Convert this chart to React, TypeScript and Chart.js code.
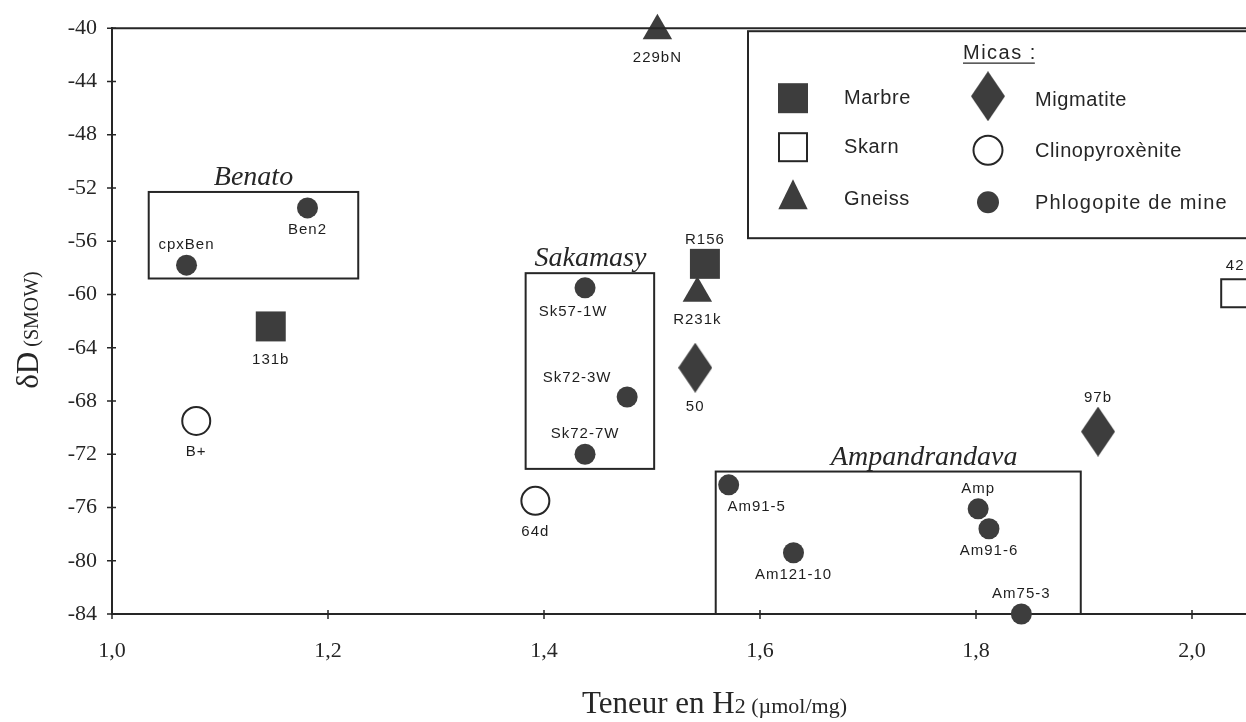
import React, { useEffect, useRef } from 'react';
import { Chart, registerables } from 'chart.js';

Chart.register(...registerables);

// ---------- data ----------
const xMin = 1.0;
const xMax = 2.15;
const yMin = -84;
const yMax = -40;
const xStep = 0.2;
const yStep = 4;

// Marbre (filled square)
const marbreX = [1.147, 1.549];
const marbreY = [-62.4, -57.7];
const marbreNames = ['131b', 'R156'];
const marbrePlace = ['b', 'a'];

// Skarn (open square)
const skarnX = [2.04];
const skarnY = [-59.9];
const skarnNames = ['42'];
const skarnPlace = ['a'];

// Gneiss (triangle)
const gneissX = [1.505, 1.542];
const gneissY = [-40.2, -59.9];
const gneissNames = ['229bN', 'R231k'];
const gneissPlace = ['b', 'b'];

// Migmatite (diamond)
const migX = [1.54, 1.913];
const migY = [-65.5, -70.3];
const migNames = ['50', '97b'];
const migPlace = ['b', 'a'];

// Clinopyroxènite (open circle)
const cpxX = [1.078, 1.392];
const cpxY = [-69.5, -75.5];
const cpxNames = ['B+', '64d'];
const cpxPlace = ['b', 'b'];

// Phlogopite de mine (filled circle)
const phloX = [1.069, 1.181, 1.438, 1.477, 1.438, 1.571, 1.631, 1.802, 1.812, 1.842];
const phloY = [-57.8, -53.5, -59.5, -67.7, -72.0, -74.3, -79.4, -76.1, -77.6, -84.0];
const phloNames = ['cpxBen', 'Ben2', 'Sk57-1W', 'Sk72-3W', 'Sk72-7W', 'Am91-5', 'Am121-10', 'Amp', 'Am91-6', 'Am75-3'];
const phloPlace = ['a', 'b', 'bl', 'al', 'a', 'br', 'b', 'a', 'b', 'a'];

// Regions (boxes)
const regionNames = ['Benato', 'Sakamasy', 'Ampandrandava'];
const regionXMin = [1.034, 1.383, 1.559];
const regionXMax = [1.228, 1.502, 1.897];
const regionYTop = [-52.3, -58.4, -73.3];
const regionYBottom = [-58.8, -73.1, -84];
const regionLabelX = [1.131, 1.443, 1.752];

const legendTitle = 'Micas :';
const legendLeftCol = ['Marbre', 'Skarn', 'Gneiss'];
const legendRightCol = ['Migmatite', 'Clinopyroxènite', 'Phlogopite de mine'];

// ---------- styling ----------
const INK = '#262626';
const FILL = '#3d3d3d';
const SERIF = '"Liberation Serif", "Times New Roman", serif';
const SANS = '"Liberation Sans", Arial, sans-serif';

function makeDiamond(w: number, h: number): HTMLCanvasElement {
  const c = document.createElement('canvas');
  c.width = w;
  c.height = h;
  const g = c.getContext('2d')!;
  g.fillStyle = FILL;
  g.beginPath();
  g.moveTo(w / 2, 0);
  g.lineTo(w, h / 2);
  g.lineTo(w / 2, h);
  g.lineTo(0, h / 2);
  g.closePath();
  g.fill();
  return c;
}

const pts = (xs: number[], ys: number[]) => xs.map((x, i) => ({ x, y: ys[i] }));

export default function App() {
  const ref = useRef<HTMLCanvasElement | null>(null);

  useEffect(() => {
    if (!ref.current) return;
    const diamond = makeDiamond(34, 50);

    const tickPlugin = {
      id: 'crossTicks',
      afterDraw(chart: any) {
        const { ctx, chartArea } = chart;
        const xs = chart.scales.x;
        const ys = chart.scales.y;
        ctx.save();
        ctx.strokeStyle = INK;
        ctx.lineWidth = 1.5;
        ctx.beginPath();
        xs.ticks.forEach((t: any) => {
          const px = xs.getPixelForValue(t.value);
          ctx.moveTo(px, chartArea.bottom - 4);
          ctx.lineTo(px, chartArea.bottom + 5);
        });
        ys.ticks.forEach((t: any) => {
          const py = ys.getPixelForValue(t.value);
          ctx.moveTo(chartArea.left - 5, py);
          ctx.lineTo(chartArea.left + 4, py);
        });
        ctx.stroke();
        ctx.lineWidth = 2;
        ctx.beginPath();
        ctx.moveTo(chartArea.left, chartArea.top);
        ctx.lineTo(chart.width, chartArea.top);
        ctx.stroke();
        ctx.restore();
      },
    };

    const regionPlugin = {
      id: 'regions',
      beforeDatasetsDraw(chart: any) {
        const { ctx } = chart;
        const xs = chart.scales.x;
        const ys = chart.scales.y;
        ctx.save();
        ctx.strokeStyle = INK;
        ctx.lineWidth = 2;
        regionNames.forEach((name, i) => {
          const x0 = xs.getPixelForValue(regionXMin[i]);
          const x1 = xs.getPixelForValue(regionXMax[i]);
          const y0 = ys.getPixelForValue(regionYTop[i]);
          const y1 = ys.getPixelForValue(regionYBottom[i]);
          ctx.strokeRect(x0, y0, x1 - x0, y1 - y0);
          ctx.font = `italic 28px ${SERIF}`;
          ctx.fillStyle = INK;
          ctx.textAlign = 'center';
          ctx.textBaseline = 'alphabetic';
          ctx.fillText(name, xs.getPixelForValue(regionLabelX[i]), y0 - 7);
        });
        ctx.restore();
      },
    };

    const labelPlugin = {
      id: 'pointLabels',
      afterDatasetsDraw(chart: any) {
        const { ctx } = chart;
        ctx.save();
        ctx.font = `15px ${SANS}`;
        (ctx as any).letterSpacing = '1px';
        ctx.fillStyle = '#1e1e1e';
        ctx.textAlign = 'center';
        ctx.textBaseline = 'middle';
        chart.data.datasets.forEach((ds: any, di: number) => {
          const meta = chart.getDatasetMeta(di);
          meta.data.forEach((el: any, i: number) => {
            const place = ds.places[i];
            let dx = 0;
            let dy = ds.gapBelow;
            if (place === 'a') dy = ds.gapAbove;
            if (place === 'al') { dy = ds.gapAbove + 1; dx = -50; }
            if (place === 'br') { dx = 28; }
            if (place === 'bl') { dx = -12; dy = ds.gapBelow + 2; }
            ctx.fillText(ds.names[i], el.x + dx, el.y + dy);
          });
        });
        ctx.restore();
      },
    };

    const titlePlugin = {
      id: 'axisTitles',
      afterDraw(chart: any) {
        const { ctx } = chart;
        ctx.save();
        ctx.fillStyle = INK;
        ctx.textBaseline = 'alphabetic';
        ctx.textAlign = 'left';
        const big = `31px ${SERIF}`;
        const small = `22px ${SERIF}`;
        const p1 = 'Teneur en H';
        const p2 = '2 (µmol/mg)';
        ctx.font = big;
        const w1 = ctx.measureText(p1).width;
        ctx.font = small;
        const w2 = ctx.measureText(p2).width;
        const sx = 582;
        ctx.font = big;
        ctx.fillText(p1, sx, 713);
        ctx.font = small;
        ctx.fillText(p2, sx + w1, 713);
        ctx.translate(38, 330);
        ctx.rotate(-Math.PI / 2);
        const q1 = 'δD';
        const q2 = ' (SMOW)';
        ctx.font = big;
        const v1 = ctx.measureText(q1).width;
        ctx.font = `20px ${SERIF}`;
        const v2 = ctx.measureText(q2).width;
        const sy = -(v1 + v2) / 2;
        ctx.font = big;
        ctx.fillText(q1, sy, 0);
        ctx.font = `20px ${SERIF}`;
        ctx.fillText(q2, sy + v1, 0);
        ctx.restore();
        void w2;
      },
    };

    const legendPlugin = {
      id: 'micaLegend',
      afterDraw(chart: any) {
        const { ctx, chartArea } = chart;
        const L = chartArea.left + 636;
        const T = chartArea.top + 3;
        ctx.save();
        ctx.fillStyle = '#ffffff';
        ctx.fillRect(L, T, chart.width - L, 207);
        ctx.strokeStyle = INK;
        ctx.lineWidth = 2;
        ctx.strokeRect(L, T, chart.width - L + 10, 207);

        ctx.fillStyle = INK;
        ctx.font = `20px ${SANS}`;
        (ctx as any).letterSpacing = '1.5px';
        ctx.textAlign = 'left';
        ctx.textBaseline = 'alphabetic';
        const tw = ctx.measureText(legendTitle).width;
        ctx.fillText(legendTitle, L + 215, T + 28);
        ctx.lineWidth = 1.2;
        ctx.beginPath();
        ctx.moveTo(L + 215, T + 32);
        ctx.lineTo(L + 213 + tw, T + 32);
        ctx.stroke();

        const c1 = L + 45;
        const c2 = L + 240;
        const rows = [T + 67, T + 116, T + 165];

        ctx.fillStyle = FILL;
        ctx.fillRect(c1 - 15, rows[0] - 15, 30, 30);
        ctx.fillStyle = '#fff';
        ctx.lineWidth = 2;
        ctx.strokeStyle = INK;
        ctx.fillRect(c1 - 14, rows[1] - 14, 28, 28);
        ctx.strokeRect(c1 - 14, rows[1] - 14, 28, 28);
        ctx.fillStyle = FILL;
        ctx.beginPath();
        ctx.moveTo(c1, rows[2] - 17);
        ctx.lineTo(c1 + 14.7, rows[2] + 13);
        ctx.lineTo(c1 - 14.7, rows[2] + 13);
        ctx.closePath();
        ctx.fill();
        ctx.drawImage(diamond, c2 - 17, rows[0] - 27);
        ctx.beginPath();
        ctx.arc(c2, rows[1] + 3, 14.5, 0, Math.PI * 2);
        ctx.fillStyle = '#fff';
        ctx.fill();
        ctx.stroke();
        ctx.beginPath();
        ctx.arc(c2, rows[2] + 6, 11, 0, Math.PI * 2);
        ctx.fillStyle = FILL;
        ctx.fill();

        ctx.fillStyle = INK;
        ctx.font = `20px ${SANS}`;
        ctx.textBaseline = 'middle';
        (ctx as any).letterSpacing = '0.6px';
        legendLeftCol.forEach((t, i) => ctx.fillText(t, L + 96, rows[i] + (i === 2 ? 3 : 0)));
        ctx.fillText(legendRightCol[0], L + 287, rows[0] + 2);
        ctx.fillText(legendRightCol[1], L + 287, rows[1] + 4);
        (ctx as any).letterSpacing = '1.2px';
        ctx.fillText(legendRightCol[2], L + 287, rows[2] + 7);
        ctx.restore();
      },
    };

    const chart = new Chart(ref.current, {
      type: 'scatter',
      data: {
        datasets: [
          {
            label: 'Marbre',
            data: pts(marbreX, marbreY),
            pointStyle: 'rect',
            pointRadius: 21.2,
            backgroundColor: FILL,
            borderColor: FILL,
            borderWidth: 0,
            names: marbreNames,
            places: marbrePlace,
            gapAbove: -24,
            gapBelow: 33,
          } as any,
          {
            label: 'Skarn',
            data: pts(skarnX, skarnY),
            pointStyle: 'rect',
            pointRadius: 19.8,
            backgroundColor: '#ffffff',
            borderColor: INK,
            borderWidth: 2,
            names: skarnNames,
            places: skarnPlace,
            gapAbove: -27,
            gapBelow: 30,
          } as any,
          {
            label: 'Gneiss',
            data: pts(gneissX, gneissY),
            pointStyle: 'triangle',
            pointRadius: 17,
            backgroundColor: FILL,
            borderColor: FILL,
            borderWidth: 0,
            names: gneissNames,
            places: gneissPlace,
            gapAbove: -25,
            gapBelow: 27,
          } as any,
          {
            label: 'Migmatite',
            data: pts(migX, migY),
            pointStyle: diamond,
            pointRadius: 25,
            backgroundColor: FILL,
            names: migNames,
            places: migPlace,
            gapAbove: -34,
            gapBelow: 39,
          } as any,
          {
            label: 'Clinopyroxènite',
            data: pts(cpxX, cpxY),
            pointStyle: 'circle',
            pointRadius: 14,
            backgroundColor: '#ffffff',
            borderColor: INK,
            borderWidth: 2,
            names: cpxNames,
            places: cpxPlace,
            gapAbove: -30,
            gapBelow: 31,
          } as any,
          {
            label: 'Phlogopite de mine',
            data: pts(phloX, phloY),
            pointStyle: 'circle',
            pointRadius: 10.5,
            backgroundColor: FILL,
            borderColor: FILL,
            borderWidth: 0,
            names: phloNames,
            places: phloPlace,
            gapAbove: -20,
            gapBelow: 22,
          } as any,
        ],
      },
      options: {
        responsive: false,
        animation: false,
        devicePixelRatio: 1,
        events: [],
        clip: false as any,
        layout: { padding: { top: 27, right: 2, left: 0, bottom: 0 } },
        plugins: {
          legend: { display: false },
          tooltip: { enabled: false },
          title: { display: false },
        },
        elements: { point: { hoverRadius: 0 } as any },
        scales: {
          x: {
            type: 'linear',
            min: xMin,
            max: xMax,
            afterFit: (s: any) => { s.height = 108; s.paddingRight = 0; s.paddingLeft = 0; },
            afterBuildTicks: (s: any) => {
              s.ticks = s.ticks.filter((t: any) => Math.abs(t.value / xStep - Math.round(t.value / xStep)) < 1e-6);
            },
            ticks: {
              stepSize: xStep,
              padding: 24,
              color: INK,
              font: { family: SERIF, size: 22 },
              callback: (v: any) => Number(v).toFixed(1).replace('.', ','),
              maxRotation: 0,
            },
            grid: { display: false, drawTicks: false },
            border: { display: true, color: INK, width: 2 },
          },
          y: {
            type: 'linear',
            min: yMin,
            max: yMax,
            afterFit: (s: any) => { s.width = 112; },
            ticks: {
              stepSize: yStep,
              padding: 15,
              color: INK,
              font: { family: SERIF, size: 22 },
              callback: (v: any) => String(Math.round(Number(v))),
            },
            grid: { display: false, drawTicks: false },
            border: { display: true, color: INK, width: 2 },
          },
        },
      } as any,
      plugins: [regionPlugin, labelPlugin, tickPlugin, titlePlugin, legendPlugin],
    });

    return () => chart.destroy();
  }, []);

  return (
    <div
      style={{
        position: 'fixed',
        left: 0,
        top: 0,
        width: 1246,
        height: 722,
        overflow: 'hidden',
        background: '#ffffff',
      }}
    >
      <canvas ref={ref} width={1380} height={722} style={{ display: 'block' }} />
    </div>
  );
}
